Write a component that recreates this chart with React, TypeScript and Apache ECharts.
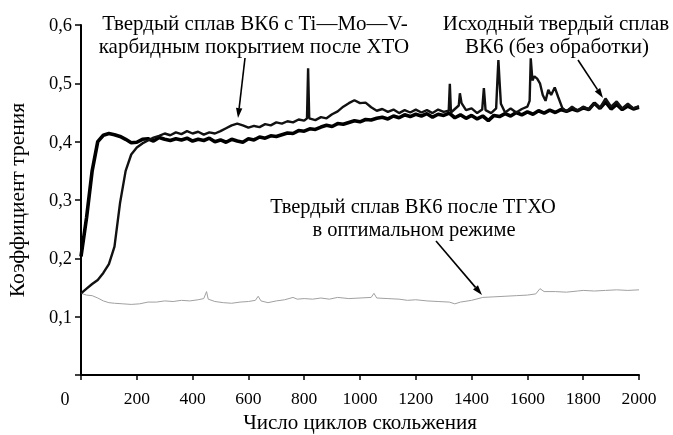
import React, { useEffect, useRef } from "react";
import * as echarts from "echarts";

// x: число циклов скольжения, y: коэффициент трения
const xTicks = [0, 200, 400, 600, 800, 1000, 1200, 1400, 1600, 1800, 2000];
const yTicks = [0, 0.1, 0.2, 0.3, 0.4, 0.5, 0.6];

// Исходный твердый сплав ВК6 (быстрый рост)
const cyclesA = [
  0, 20, 40, 60, 80, 100, 120, 140, 160, 180, 200, 220, 240, 260, 280, 300, 320, 340, 360, 380,
  400, 420, 440, 460, 480, 500, 520, 540, 560, 580, 600, 620, 640, 660, 680, 700, 720, 740, 760, 780,
  800, 820, 840, 860, 880, 900, 920, 940, 960, 980, 1000, 1020, 1040, 1060, 1080, 1100, 1120, 1140, 1160, 1180,
  1200, 1220, 1240, 1260, 1280, 1300, 1320, 1340, 1360, 1380, 1400, 1420, 1440, 1460, 1480, 1500, 1520, 1540, 1560, 1580,
  1600, 1620, 1640, 1660, 1680, 1700, 1720, 1740, 1760, 1780, 1800, 1820, 1840, 1860, 1880, 1900, 1920, 1940, 1960, 1980, 2000,
];
const muA = [
  0.203, 0.27, 0.35, 0.4, 0.411, 0.414, 0.412, 0.409, 0.404, 0.398, 0.399, 0.404, 0.405, 0.401, 0.407, 0.404, 0.402, 0.405, 0.403, 0.406,
  0.401, 0.404, 0.402, 0.406, 0.4, 0.403, 0.399, 0.404, 0.401, 0.399, 0.405, 0.403, 0.408, 0.406, 0.41, 0.409, 0.412, 0.415, 0.414, 0.419,
  0.418, 0.422, 0.421, 0.425, 0.428, 0.426, 0.431, 0.43, 0.433, 0.436, 0.434, 0.438, 0.437, 0.44, 0.442, 0.439, 0.444, 0.441, 0.446, 0.443,
  0.447, 0.444, 0.448, 0.442, 0.447, 0.445, 0.449, 0.441, 0.446, 0.44, 0.445, 0.439, 0.444, 0.436, 0.445, 0.443, 0.448, 0.444, 0.45, 0.446,
  0.451, 0.447, 0.453, 0.449, 0.454, 0.45, 0.455, 0.452, 0.456, 0.453, 0.458, 0.455, 0.466, 0.457, 0.468, 0.456, 0.464, 0.455, 0.461, 0.456, 0.459,
];

// Твердый сплав ВК6 с Ti—Mo—V-карбидным покрытием после ХТО
const cyclesB = [
  0, 20, 40, 60, 80, 100, 120, 140, 160, 180, 200, 220, 240, 260, 280, 300, 320, 340, 360, 380,
  400, 420, 440, 460, 480, 500, 520, 540, 560, 580, 600, 620, 640, 660, 680, 700, 720, 740, 760, 780,
  800, 810, 814, 818, 840, 860, 880, 900, 920, 940, 960, 980, 1000, 1020, 1040, 1060, 1080, 1100, 1120, 1140,
  1160, 1180, 1200, 1220, 1240, 1260, 1280, 1300, 1318, 1322, 1326, 1340, 1354, 1358, 1364, 1380, 1400, 1420, 1438, 1444,
  1450, 1470, 1488, 1492, 1496, 1500, 1505, 1520, 1540, 1560, 1580, 1600, 1608, 1612, 1618, 1625, 1635, 1645, 1655, 1665,
  1675, 1685, 1698, 1710, 1725, 1740, 1760, 1780, 1800, 1820, 1840, 1860, 1880, 1900, 1920, 1940, 1960, 1980, 2000,
];
const muB = [
  0.14, 0.148, 0.156, 0.163, 0.175, 0.19, 0.22, 0.295, 0.35, 0.378, 0.39, 0.397, 0.402, 0.407, 0.41, 0.414, 0.411, 0.416, 0.413, 0.418,
  0.414, 0.417, 0.412, 0.416, 0.414, 0.418, 0.423, 0.428, 0.431, 0.428, 0.424, 0.427, 0.425, 0.43, 0.428, 0.433, 0.431, 0.435, 0.433, 0.438,
  0.436, 0.44, 0.526, 0.44, 0.437, 0.442, 0.44, 0.447, 0.452, 0.46, 0.466, 0.471, 0.466, 0.467, 0.459, 0.453, 0.456, 0.451, 0.455, 0.449,
  0.454, 0.45, 0.455, 0.45, 0.454, 0.449, 0.455, 0.451, 0.453, 0.499, 0.45, 0.456, 0.462, 0.483, 0.466, 0.454, 0.457, 0.449, 0.455, 0.492,
  0.454, 0.449, 0.457, 0.5, 0.54, 0.505, 0.465, 0.45, 0.457, 0.45, 0.456, 0.46, 0.47, 0.543, 0.505, 0.512, 0.508, 0.5, 0.48, 0.47,
  0.489, 0.48, 0.493, 0.477, 0.458, 0.452, 0.46, 0.453, 0.46, 0.455, 0.466, 0.458, 0.474, 0.46, 0.469, 0.457, 0.465, 0.457, 0.461,
];

// Твердый сплав ВК6 после ТГХО в оптимальном режиме
const cyclesC = [
  0, 20, 40, 60, 80, 100, 120, 150, 180, 210, 240, 270, 300, 330, 360, 390, 420, 440, 450, 456,
  480, 510, 540, 570, 600, 625, 635, 645, 670, 700, 730, 760, 775, 800, 830, 860, 890, 920, 960, 1000,
  1040, 1050, 1060, 1100, 1140, 1170, 1200, 1240, 1280, 1320, 1340, 1360, 1400, 1440, 1480, 1520, 1560, 1600, 1630, 1645,
  1660, 1700, 1740, 1780, 1800, 1840, 1880, 1920, 1960, 2000,
];
const muC = [
  0.14, 0.137, 0.136, 0.132, 0.127, 0.124, 0.123, 0.122, 0.121, 0.122, 0.125, 0.125, 0.127, 0.126, 0.128, 0.127, 0.129, 0.131, 0.143, 0.13,
  0.126, 0.124, 0.123, 0.125, 0.126, 0.128, 0.135, 0.127, 0.124, 0.127, 0.129, 0.133, 0.13, 0.131, 0.13, 0.132, 0.13, 0.133, 0.131, 0.132,
  0.133, 0.14, 0.132, 0.131, 0.13, 0.128, 0.129, 0.127, 0.126, 0.125, 0.122, 0.125, 0.128, 0.133, 0.134, 0.135, 0.136, 0.137, 0.139, 0.148,
  0.143, 0.143, 0.142, 0.144, 0.145, 0.144, 0.145, 0.146, 0.145, 0.146,
];

const FONT = "Liberation Serif";

function pairs(xs: number[], ys: number[]) {
  return xs.map((x, i) => [x, ys[i]]);
}

function arrow(x1: number, y1: number, x2: number, y2: number) {
  const a = Math.atan2(y2 - y1, x2 - x1);
  const L = 10;
  const W = 3.2;
  const bx = x2 - L * Math.cos(a);
  const by = y2 - L * Math.sin(a);
  const px = -Math.sin(a) * W;
  const py = Math.cos(a) * W;
  return [
    { type: "line", shape: { x1, y1, x2: bx, y2: by }, style: { stroke: "#000", lineWidth: 1.6 } },
    {
      type: "polygon",
      shape: { points: [[x2, y2], [bx + px, by + py], [bx - px, by - py]] },
      style: { fill: "#000" },
    },
  ];
}

function label(text: string, x: number, y: number, size = 21) {
  return {
    type: "text",
    x,
    y,
    style: {
      text,
      fill: "#000",
      fontSize: size,
      fontFamily: FONT,
      align: "center",
      verticalAlign: "middle",
    },
  };
}

export default function App() {
  const ref = useRef<HTMLDivElement>(null);
  useEffect(() => {
    const chart = echarts.init(ref.current!, null, { renderer: "svg" });
    chart.setOption({
      animation: false,
      grid: { left: 81, right: 34, top: 25, bottom: 60, outerBoundsMode: "none" },
      xAxis: {
        type: "value",
        min: xTicks[0],
        max: xTicks[xTicks.length - 1],
        interval: 200,
        name: "Число циклов скольжения",
        nameLocation: "middle",
        nameGap: 32,
        nameTextStyle: { fontFamily: FONT, fontSize: 21, color: "#000" },
        axisLine: { show: true, onZero: false, lineStyle: { color: "#000", width: 2 } },
        axisTick: { show: true, length: 5, lineStyle: { color: "#000", width: 1.5 } },
        axisLabel: {
          fontFamily: FONT,
          fontSize: 17.5,
          color: "#000",
          margin: 14,
          formatter: (v: number) => (v === 0 ? "" : String(v)),
        },
        splitLine: { show: false },
      },
      yAxis: {
        type: "value",
        min: yTicks[0],
        max: yTicks[yTicks.length - 1],
        interval: 0.1,
        name: "Коэффициент трения",
        nameLocation: "middle",
        nameRotate: 90,
        nameGap: 53,
        nameTextStyle: { fontFamily: FONT, fontSize: 21.5, color: "#000" },
        axisLine: { show: true, lineStyle: { color: "#000", width: 2 } },
        axisTick: { show: true, length: 6, lineStyle: { color: "#000", width: 1.5 } },
        axisLabel: {
          fontFamily: FONT,
          fontSize: 18.5,
          color: "#000",
          margin: 9,
          formatter: (v: number) => (v === 0 ? "" : v.toFixed(1).replace(".", ",")),
        },
        splitLine: { show: false },
      },
      series: [
        {
          name: "ТГХО",
          type: "line",
          data: pairs(cyclesC, muC),
          showSymbol: false,
          lineStyle: { color: "#a0a0a0", width: 1 },
        },
        {
          name: "Исходный",
          type: "line",
          data: pairs(cyclesA, muA),
          showSymbol: false,
          lineStyle: { color: "#000", width: 3.6 },
        },
        {
          name: "ХТО",
          type: "line",
          data: pairs(cyclesB, muB),
          showSymbol: false,
          lineStyle: { color: "#111", width: 2.4 },
        },
      ],
      graphic: [
        label("0", 65, 399, 18),
        label("Твердый сплав ВК6 с Ti—Mo—V-", 255, 23),
        label("карбидным покрытием после ХТО", 254, 46),
        label("Исходный твердый сплав", 556, 23),
        label("ВК6 (без обработки)", 557, 46),
        label("Твердый сплав ВК6 после ТГХО", 413, 206, 20.5),
        label("в оптимальном режиме", 414, 229, 20.5),
        ...arrow(245, 58, 238, 118),
        ...arrow(578, 60, 603, 98),
        ...arrow(436, 241, 482, 295),
      ],
    });
    return () => chart.dispose();
  }, []);
  return <div ref={ref} style={{ position: "fixed", left: 0, top: 0, width: 673, height: 435 }} />;
}
